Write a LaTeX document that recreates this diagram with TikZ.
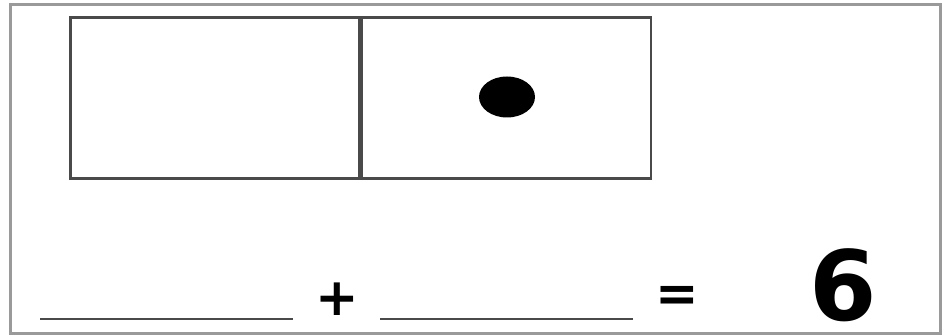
\documentclass[tikz,border=0pt]{standalone}
\usepackage{fontspec}
\newfontfamily\digitfont{DejaVu Sans}[BoldFont={DejaVu Sans Bold}]
\usetikzlibrary{positioning,shapes.geometric}
\definecolor{framegray}{HTML}{9A9A9A}
\definecolor{cellgray}{HTML}{4A4A4A}

\tikzset{
	domino/.style={
			x=1pt, y=-1pt,
			cell/.style={rectangle, draw=cellgray, line width=2.6pt, minimum width=289pt, minimum height=161pt, inner sep=0pt, anchor=north west},
			pip/.style={ellipse, fill=black, minimum width=56pt, minimum height=41pt, inner sep=0pt},
			blank/.style={draw=cellgray, line width=2.6pt},
			sign/.style={inner sep=0pt, font=\digitfont\bfseries\fontsize{52}{52}\selectfont},
			total/.style={inner sep=0pt, font=\digitfont\bfseries\fontsize{97}{97}\selectfont},
		}
}

\begin{document}
\begin{tikzpicture}[domino]
		\useasboundingbox (0,0) rectangle (944,336);
		\draw[framegray, line width=3pt] (10,5) rectangle (940,333);
		% the two halves
		\node[cell] (leftcell) at (69,16.5) {};
		\node[cell, right=0pt of leftcell.north east, anchor=north west] (rightcell) {};
		\node[pip] (dot) at (507,97) {};
		% the sum
		\coordinate (blankA1) at (40,319);
		\coordinate (blankA2) at (293,319);
		\coordinate (blankB1) at (380,319);
		\coordinate (blankB2) at (633,319);
		\draw[blank] (blankA1) -- (blankA2);
		\draw[blank] (blankB1) -- (blankB2);
		\node[sign] (plus) at (337,299) {+};
		\node[sign] (equals) at (677,299) {=};
		\node[total, anchor=base] (six) at (843,320) {6};
	\end{tikzpicture}
\end{document}
